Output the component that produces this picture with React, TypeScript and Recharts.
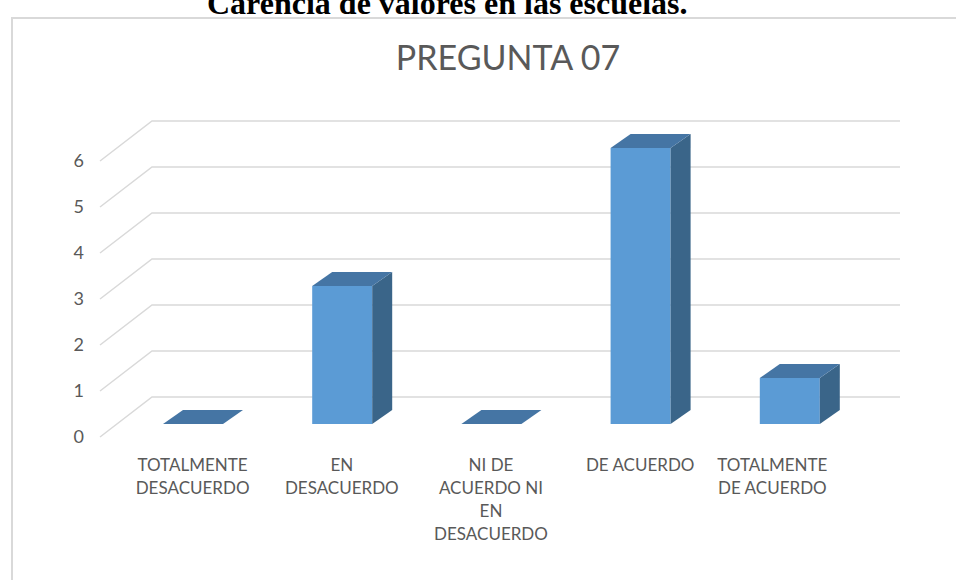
import React from "react";
import { Bar, BarChart, CartesianGrid, XAxis, YAxis } from "recharts";

const categories = [
  "TOTALMENTE DESACUERDO",
  "EN DESACUERDO",
  "NI DE ACUERDO NI EN DESACUERDO",
  "DE ACUERDO",
  "TOTALMENTE DE ACUERDO",
];
const labelLines = [
  ["TOTALMENTE", "DESACUERDO"],
  ["EN", "DESACUERDO"],
  ["NI DE", "ACUERDO NI", "EN", "DESACUERDO"],
  ["DE ACUERDO"],
  ["TOTALMENTE", "DE ACUERDO"],
];
const values = [0, 3, 0, 6, 1];
const yTicks = [0, 1, 2, 3, 4, 5, 6];

const data = categories.map((name, i) => ({ name, value: values[i] }));

const FONT = "Lato, 'Open Sans', sans-serif";
const TEXT = "#595959";
const DX = 20;
const DY = 14;

function Bar3D(props: any) {
  const { x, y, width, height } = props;
  const h = Math.max(0, height || 0);
  const top = `${x},${y} ${x + DX},${y - DY} ${x + width + DX},${y - DY} ${x + width},${y}`;
  const side = `${x + width},${y} ${x + width + DX},${y - DY} ${x + width + DX},${y + h - DY} ${x + width},${y + h}`;
  return (
    <g>
      {h > 0 && <rect x={x} y={y} width={width} height={h} fill="#5B9BD5" />}
      {h > 0 && <polygon points={side} fill="#3A6589" />}
      <polygon points={top} fill="#4575A4" />
    </g>
  );
}

function GridLine3D(props: any) {
  const { x1, x2, y1 } = props;
  return (
    <path
      d={`M${x1 - 18},${y1 + 13} L${x1 + 34},${y1 - 27} L${x2 + 36},${y1 - 27}`}
      fill="none"
      stroke="#d9d9d9"
      strokeWidth={1.5}
    />
  );
}

function YTick(props: any) {
  const { x, y, payload } = props;
  return (
    <text x={x - 34} y={y + 19} textAnchor="end" fill={TEXT} fontSize={18} fontFamily={FONT}>
      {payload.value}
    </text>
  );
}

function XTick(props: any) {
  const { x, y, index } = props;
  const lines = labelLines[index] || [];
  const cx = index === labelLines.length - 1 ? x - 17 : x;
  return (
    <text x={cx} y={y} textAnchor="middle" fill={TEXT} fontSize={17} fontFamily={FONT}>
      {lines.map((l, i) => (
        <tspan key={i} x={cx} dy={i === 0 ? 47 : 23}>
          {l}
        </tspan>
      ))}
    </text>
  );
}

export default function App() {
  return (
    <div style={{ position: "absolute", left: 0, top: 0, width: 956, height: 580, background: "#fff", overflow: "hidden" }}>
      <svg width={956} height={580} style={{ position: "absolute", left: 0, top: 0 }}>
        <text x={207} y={14} fontFamily="'Liberation Serif', 'Times New Roman', serif" fontWeight="bold" fontSize={32} fill="#000">
          Carencia de valores en las escuelas.
        </text>
        <rect x={12} y={18} width={960} height={600} fill="none" stroke="#d9d9d9" strokeWidth={2} />
        <text x={508} y={70} textAnchor="middle" fontFamily={FONT} fontSize={34} fill={TEXT}>
          PREGUNTA 07
        </text>
      </svg>
      <div style={{ position: "absolute", left: 0, top: 0 }}>
        <BarChart width={956} height={580} data={data} margin={{ top: 148, right: 92, bottom: 0, left: 82 }}>
          <CartesianGrid vertical={false} horizontal={(p: any) => <GridLine3D key={p.key} {...p} />} />
          <XAxis
            dataKey="name"
            height={156}
            axisLine={false}
            tickLine={false}
            tickSize={0}
            tickMargin={0}
            interval={0}
            tick={<XTick />}
          />
          <YAxis
            width={36}
            domain={[0, 6]}
            ticks={yTicks}
            axisLine={false}
            tickLine={false}
            tickSize={0}
            tickMargin={0}
            tick={<YTick />}
          />
          <Bar dataKey="value" barSize={60} shape={<Bar3D />} isAnimationActive={false} />
        </BarChart>
      </div>
    </div>
  );
}
